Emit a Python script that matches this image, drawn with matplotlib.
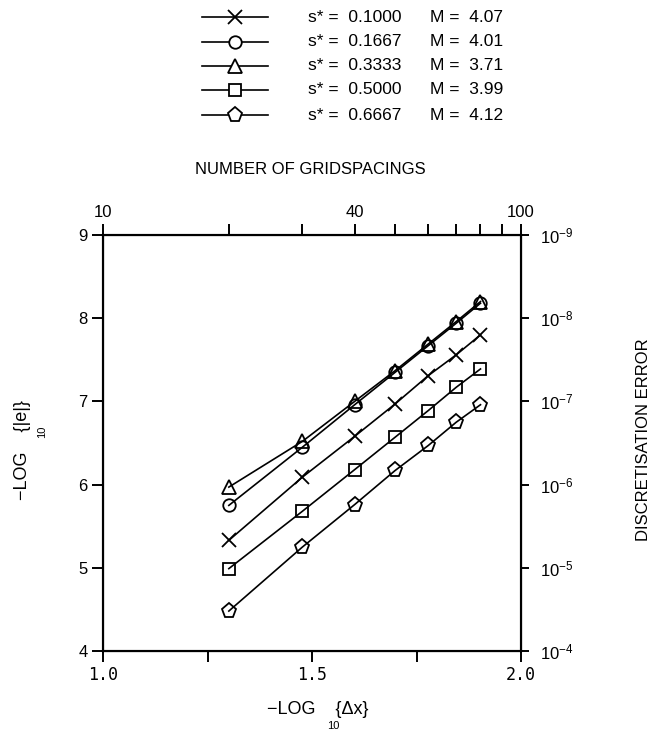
import numpy as np
import matplotlib
matplotlib.use("Agg")
import matplotlib.pyplot as plt
from matplotlib.lines import Line2D
from matplotlib.ticker import FixedLocator, FixedFormatter, NullLocator, LogFormatterSciNotation

plt.rcParams['font.family'] = ['Liberation Sans', 'DejaVu Sans']
plt.rcParams['mathtext.fontset'] = 'custom'
plt.rcParams['mathtext.rm'] = 'Liberation Sans'
plt.rcParams['mathtext.it'] = 'Liberation Sans:italic'
plt.rcParams['axes.unicode_minus'] = True

# Grid resolutions (number of gridspacings)
n_grid = [20, 30, 40, 50, 60, 70, 80]

# -log10|e| for each Courant-type parameter s*
s_star = ["0.1000", "0.1667", "0.3333", "0.5000", "0.6667"]
order_m = ["4.07", "4.01", "3.71", "3.99", "4.12"]
err_s1000 = [5.33, 6.09, 6.58, 6.97, 7.31, 7.56, 7.80]
err_s1667 = [5.75, 6.45, 6.96, 7.35, 7.67, 7.94, 8.18]
err_s3333 = [5.97, 6.52, 7.00, 7.37, 7.69, 7.96, 8.20]
err_s5000 = [4.99, 5.68, 6.18, 6.57, 6.89, 7.17, 7.39]
err_s6667 = [4.48, 5.25, 5.76, 6.17, 6.47, 6.75, 6.96]
series = [err_s1000, err_s1667, err_s3333, err_s5000, err_s6667]

markers = ['x', 'o', '^', 's', 'p']
msizes = [10, 9, 10, 8, 11]

W, H = 650, 735
fig = plt.figure(figsize=(W / 100, H / 100), dpi=100)

ax = fig.add_axes([103 / W, 1 - 651 / H, 418 / W, 416 / H])
ax.set_xlim(1.0, 2.0)
ax.set_ylim(4, 9)
for sp in ax.spines.values():
    sp.set_linewidth(1.5)

ax.xaxis.set_major_locator(FixedLocator([1.0, 1.25, 1.5, 1.75, 2.0]))
ax.xaxis.set_major_formatter(FixedFormatter(["1.0", "", "1.5", "", "2.0"]))
ax.yaxis.set_major_locator(FixedLocator([4, 5, 6, 7, 8, 9]))
ax.tick_params(axis='both', direction='out', length=8, width=1.4, labelsize=12, pad=3)
for lab in ax.get_xticklabels():
    lab.set_fontfamily('DejaVu Sans Mono')

# top axis: number of gridspacings (log scale)
axt = ax.twiny()
axt.set_xscale('log')
axt.set_xlim(10, 100)
top_ticks = [10, 20, 30, 40, 50, 60, 70, 80, 90, 100]
axt.xaxis.set_major_locator(FixedLocator(top_ticks))
axt.xaxis.set_major_formatter(FixedFormatter(["10", "", "", "40", "", "", "", "", "", "100"]))
axt.xaxis.set_minor_locator(NullLocator())
axt.tick_params(axis='x', direction='out', length=8, width=1.4, labelsize=12, pad=3)
for sp in axt.spines.values():
    sp.set_linewidth(1.5)

# right axis: discretisation error (log scale)
axr = ax.twinx()
axr.set_yscale('log')
axr.set_ylim(1e-4, 1e-9)
axr.yaxis.set_major_locator(FixedLocator([1e-4, 1e-5, 1e-6, 1e-7, 1e-8, 1e-9]))
axr.yaxis.set_major_formatter(LogFormatterSciNotation())
axr.yaxis.set_minor_locator(NullLocator())
axr.tick_params(axis='y', direction='out', length=6, width=1.4, labelsize=12, pad=8)

# data on the gridspacing axis
for ys, mk, ms in zip(series, markers, msizes):
    axt.plot(n_grid, ys, color='black', lw=1.2, marker=mk, ms=ms,
             mfc='none', mec='black', mew=1.3, clip_on=False)
axt.set_ylim(4, 9)

# axis titles
fig.text(310 / W, 1 - 170 / H, "NUMBER OF GRIDSPACINGS", ha='center', va='center', fontsize=12)
fig.text(643 / W, 1 - 440 / H, "DISCRETISATION ERROR", ha='center', va='center',
         rotation=90, fontsize=12)
fig.text(318 / W, 1 - 710 / H, "\u2212LOG    {\u0394x}", ha='center', va='center', fontsize=13)
fig.text(333 / W, 1 - 726 / H, "10", ha='center', va='center', fontsize=8)
fig.text(23 / W, 1 - 450 / H, "\u2212LOG    {|e|}", ha='center', va='center',
         rotation=90, fontsize=13)
fig.text(42 / W, 1 - 432 / H, "10", ha='center', va='center', rotation=90, fontsize=8)

# key
row_y = [17, 42, 66, 90, 115]
for yy, mk, ms, s, m in zip(row_y, markers, msizes, s_star, order_m):
    fy = 1 - yy / H
    fig.add_artist(Line2D([202 / W, 268 / W], [fy, fy], transform=fig.transFigure,
                          color='black', lw=1.2))
    fig.add_artist(Line2D([235 / W], [fy], transform=fig.transFigure, marker=mk, ms=ms,
                          mfc='white', mec='black', mew=1.3, color='black'))
    fig.text(308 / W, fy, f"s* =  {s}", ha='left', va='center', fontsize=12.5)
    fig.text(430 / W, fy, f"M =  {m}", ha='left', va='center', fontsize=12.5)

fig.savefig("out.png", dpi=100)
